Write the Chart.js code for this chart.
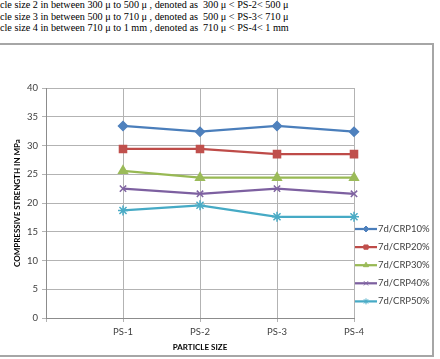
<!DOCTYPE html>
<html>
<head>
<meta charset="utf-8">
<script src="https://cdn.jsdelivr.net/npm/chart.js@4.4.0/dist/chart.umd.min.js"></script>
<style>
  body { margin: 0; width: 440px; height: 359px; overflow: hidden; background: #fff; position: relative; }
  .note { position: absolute; left: 0; font-family: "Liberation Serif", serif; font-size: 10.2px; line-height: 12px; color: #000; white-space: pre; }
  .note span { position: absolute; left: 203px; }
  .chartBorder { position: absolute; left: -3px; top: 43px; width: 433px; height: 310px; border: 2px solid #a6a6a6; }
  .chartBox { position: absolute; left: 0; top: 44px; width: 431px; height: 310px; }
</style>
</head>
<body>
<div class="note" style="top:-1px">cle size 2 in between 300 μ to 500 μ , denoted as<span>300 μ &lt; PS-2&lt; 500 μ</span></div>
<div class="note" style="top:10.5px">cle size 3 in between 500 μ to 710 μ , denoted as<span>500 μ &lt; PS-3&lt; 710 μ</span></div>
<div class="note" style="top:22px">cle size 4 in between 710 μ to 1 mm , denoted as<span>710 μ &lt; PS-4&lt; 1 mm</span></div>
<div class="chartBorder"></div>
<div class="chartBox"><canvas id="Line-Chart" width="431" height="310"></canvas></div>
<script>
// Data
const labels = ["", "PS-1", "PS-2", "PS-3", "PS-4"];
const seriesNames = ["7d/CRP10%", "7d/CRP20%", "7d/CRP30%", "7d/CRP40%", "7d/CRP50%"];
const crp10 = [null, 33.4, 32.4, 33.4, 32.4];
const crp20 = [null, 29.4, 29.4, 28.5, 28.5];
const crp30 = [null, 25.6, 24.4, 24.4, 24.4];
const crp40 = [null, 22.5, 21.6, 22.5, 21.6];
const crp50 = [null, 18.7, 19.6, 17.6, 17.6];
const yTicks = [0, 5, 10, 15, 20, 25, 30, 35, 40];

const lineColors = ["#4a7ebb", "#be4b48", "#98b954", "#7d60a0", "#46aac5"];
const markColors = ["#4f81bd", "#c0504d", "#9bbb59", "#8064a2", "#4bacc6"];
const markers = ["rectRot", "rect", "triangle", "crossRot", "star"];
const markSize = [4.5, 5, 5, 4.5, 5];
const values = [crp10, crp20, crp30, crp40, crp50];

const datasets = values.map((v, i) => ({
  label: seriesNames[i],
  data: v,
  borderColor: lineColors[i],
  backgroundColor: markColors[i],
  pointBackgroundColor: markColors[i],
  pointBorderColor: markColors[i],
  pointStyle: markers[i],
  pointRadius: markSize[i],
  pointBorderWidth: 1.5,
  borderWidth: 2.25,
  tension: 0,
}));

// Legend with line + marker, like the original
const legendLines = {
  id: "legendLines",
  afterDraw(chart) {
    const ctx = chart.ctx;
    const x0 = chart.chartArea.right + 1;
    ctx.save();
    chart.data.datasets.forEach((ds, i) => {
      const y = chart.chartArea.top + 141 + i * 18.1;
      ctx.strokeStyle = ds.borderColor;
      ctx.lineWidth = 2.25;
      ctx.beginPath();
      ctx.moveTo(x0, y);
      ctx.lineTo(x0 + 22, y);
      ctx.stroke();
      if (Chart.helpers && Chart.helpers.drawPoint) {
        ctx.fillStyle = ds.pointBackgroundColor;
        ctx.strokeStyle = ds.pointBorderColor;
        ctx.lineWidth = 1;
        Chart.helpers.drawPoint(ctx, { pointStyle: ds.pointStyle, radius: 3, rotation: 0, borderWidth: 1 }, x0 + 11, y);
      }
      ctx.fillStyle = "#404040";
      ctx.font = "9.5px Lato";
      ctx.textBaseline = "middle";
      ctx.fillText(ds.label, x0 + 23, y);
    });
    ctx.restore();
  },
};

const config = {
  type: "line",
  data: { labels: labels, datasets: datasets },
  options: {
    responsive: false,
    animation: false,
    spanGaps: true,
    layout: { padding: { top: 44, right: 77, bottom: 0, left: 0 } },
    plugins: { legend: { display: false }, tooltip: { enabled: false } },
    scales: {
      x: {
        offset: false,
        grid: { color: "#b3b3b3", tickLength: 4, lineWidth: 1 },
        border: { color: "#8c8c8c" },
        ticks: { color: "#404040", font: { family: "Lato", size: 9.5 }, padding: 4, maxRotation: 0, autoSkip: false },
        title: { display: true, text: "PARTICLE SIZE", color: "#000", font: { family: "Lato", size: 8, weight: "bold" }, padding: { top: 2, bottom: 2 } },
        afterFit(scale) { scale.height = 36; },
      },
      y: {
        min: 0,
        max: 40,
        afterBuildTicks(scale) { scale.ticks = yTicks.map((v) => ({ value: v })); },
        grid: { color: "#b3b3b3", tickLength: 4, lineWidth: 1 },
        border: { color: "#8c8c8c" },
        ticks: { color: "#404040", font: { family: "Lato", size: 9.5 }, padding: 4 },
        title: { display: true, text: "COMPRESSIVE STRENGTH IN MPa", color: "#000", font: { family: "Lato", size: 8, weight: "bold" }, padding: { top: 13, bottom: 0 } },
        afterFit(scale) { scale.width = 46; },
      },
    },
  },
  plugins: [legendLines],
};

const myChart = new Chart(document.getElementById("Line-Chart"), config);
// End Line Chart
</script>
</body>
</html>
